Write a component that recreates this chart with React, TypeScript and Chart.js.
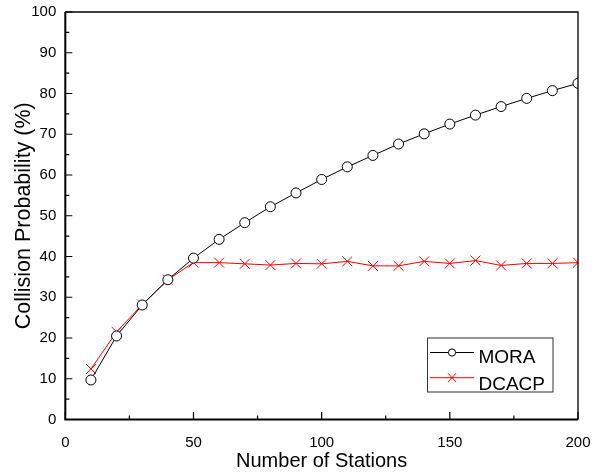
import React, { useEffect, useRef } from "react";
import { Chart, registerables } from "chart.js";

Chart.register(...registerables);

const stations = [10, 20, 30, 40, 50, 60, 70, 80, 90, 100, 110, 120, 130, 140, 150, 160, 170, 180, 190, 200];
const moraValues = [9.7, 20.5, 28.1, 34.3, 39.6, 44.2, 48.3, 52.2, 55.6, 58.9, 62.0, 64.8, 67.6, 70.1, 72.5, 74.7, 76.8, 78.8, 80.7, 82.5];
const dcacpValues = [12.4, 21.5, 28.2, 34.3, 38.5, 38.5, 38.2, 37.9, 38.3, 38.2, 38.8, 37.7, 37.7, 38.8, 38.3, 39.0, 37.8, 38.3, 38.3, 38.5];
const seriesNames = ["MORA", "DCACP"];
const xTicks = [0, 50, 100, 150, 200];
const yTicks = [0, 10, 20, 30, 40, 50, 60, 70, 80, 90, 100];

const FONT = "'Liberation Sans', Arial, Helvetica, sans-serif";

const framePlugin = {
  id: "framePlugin",
  afterDatasetsDraw(chart: any) {
    const { ctx, chartArea } = chart;
    const { left, right, top, bottom } = chartArea;
    const xs = chart.scales.x;
    const ys = chart.scales.y;
    ctx.save();
    ctx.strokeStyle = "#000";
    // top & right
    ctx.lineWidth = 1.3;
    ctx.beginPath();
    ctx.moveTo(left, top);
    ctx.lineTo(right, top);
    ctx.lineTo(right, bottom);
    ctx.stroke();
    // left & bottom
    ctx.lineWidth = 2;
    ctx.beginPath();
    ctx.moveTo(left, top);
    ctx.lineTo(left, bottom);
    ctx.lineTo(right, bottom);
    ctx.stroke();
    // ticks inward
    ctx.lineWidth = 1.2;
    ctx.beginPath();
    for (let v = 0; v <= 100; v += 5) {
      const py = ys.getPixelForValue(v);
      const len = v % 10 === 0 ? 7 : 4;
      ctx.moveTo(left, py);
      ctx.lineTo(left + len, py);
    }
    for (let v = 0; v <= 200; v += 25) {
      const px = xs.getPixelForValue(v);
      const len = v % 50 === 0 ? 7.5 : 4;
      ctx.moveTo(px, bottom);
      ctx.lineTo(px, bottom - len);
    }
    ctx.stroke();

    // legend
    const bx = 427, by = 337.5, bw = 125.5, bh = 54;
    ctx.fillStyle = "#fff";
    ctx.fillRect(bx, by, bw, bh);
    ctx.strokeStyle = "#333";
    ctx.lineWidth = 1;
    ctx.strokeRect(bx + 0.5, by + 0.5, bw, bh);

    // MORA row
    const y1 = 352.5;
    ctx.strokeStyle = "#000";
    ctx.lineWidth = 1;
    ctx.beginPath();
    ctx.moveTo(430, y1);
    ctx.lineTo(474, y1);
    ctx.stroke();
    ctx.fillStyle = "#fff";
    ctx.beginPath();
    ctx.arc(452, y1, 3.6, 0, Math.PI * 2);
    ctx.fill();
    ctx.stroke();

    // DCACP row
    const y2 = 377.7;
    ctx.strokeStyle = "#ff0000";
    ctx.beginPath();
    ctx.moveTo(430, y2);
    ctx.lineTo(474, y2);
    ctx.moveTo(448, y2 - 4.5);
    ctx.lineTo(456, y2 + 4.5);
    ctx.moveTo(456, y2 - 4.5);
    ctx.lineTo(448, y2 + 4.5);
    ctx.stroke();

    ctx.fillStyle = "#000";
    ctx.font = `19px ${FONT}`;
    ctx.textBaseline = "alphabetic";
    ctx.textAlign = "left";
    ctx.fillText(seriesNames[0], 478.5, 362.5);
    ctx.fillText(seriesNames[1], 478.5, 389.5);
    ctx.restore();
  },
};

export default function App() {
  const ref = useRef<HTMLCanvasElement | null>(null);
  useEffect(() => {
    document.body.style.margin = "0";
    const canvas = ref.current!;
    const chart = new Chart(canvas, {
      type: "line",
      data: {
        datasets: [
          {
            label: seriesNames[0],
            data: stations.map((x, i) => ({ x, y: moraValues[i] })),
            borderColor: "#000",
            borderWidth: 1,
            pointStyle: "circle",
            pointRadius: 5,
            pointBorderWidth: 1,
            pointBackgroundColor: "#fff",
            pointBorderColor: "#000",
            tension: 0,
          },
          {
            label: seriesNames[1],
            data: stations.map((x, i) => ({ x, y: dcacpValues[i] })),
            borderColor: "#ff0000",
            borderWidth: 1,
            pointStyle: "crossRot",
            pointRadius: 7,
            pointBorderWidth: 1,
            pointBorderColor: "#ff0000",
            pointBackgroundColor: "#ff0000",
            tension: 0,
          },
        ],
      },
      options: {
        responsive: false,
        animation: false,
        layout: { padding: { top: 12, right: 22, left: 0, bottom: 0 } },
        plugins: { legend: { display: false }, tooltip: { enabled: false } },
        scales: {
          x: {
            type: "linear",
            min: 0,
            max: 200,
            afterBuildTicks: (s: any) => {
              s.ticks = xTicks.map((v) => ({ value: v }));
            },
            afterFit: (s: any) => {
              s.height = 54.5;
              s.paddingLeft = 0;
              s.paddingRight = 0;
            },
            grid: { display: false, drawTicks: false },
            border: { display: false },
            ticks: {
              color: "#000",
              font: { family: FONT, size: 15 },
              padding: 14,
              maxRotation: 0,
            },
            title: {
              display: true,
              text: "Number of Stations",
              color: "#000",
              font: { family: FONT, size: 20 },
              padding: { top: 0, bottom: 1 },
            },
          },
          y: {
            type: "linear",
            min: 0,
            max: 100,
            afterBuildTicks: (s: any) => {
              s.ticks = yTicks.map((v) => ({ value: v }));
            },
            afterFit: (s: any) => {
              s.width = 65.3;
              s.paddingTop = 0;
              s.paddingBottom = 0;
            },
            grid: { display: false, drawTicks: false },
            border: { display: false },
            ticks: {
              color: "#000",
              font: { family: FONT, size: 15 },
              padding: 9,
            },
            title: {
              display: true,
              text: "Collision Probability (%)",
              color: "#000",
              font: { family: FONT, size: 21.5 },
              padding: { top: 11.5, bottom: 0 },
            },
          },
        },
      },
      plugins: [framePlugin],
    });
    return () => chart.destroy();
  }, []);
  return <canvas ref={ref} width={600} height={474} style={{ display: "block" }} />;
}
